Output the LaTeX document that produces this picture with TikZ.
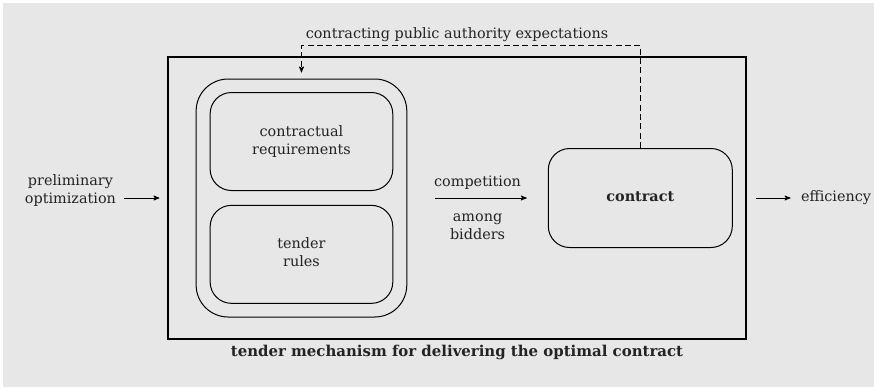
\documentclass[tikz,border=0pt]{standalone}
\usepackage{fontspec}
\setmainfont{DejaVu Serif}
\usepackage{tikz}
\usetikzlibrary{arrows,shapes}
\usetikzlibrary{positioning}
\definecolor{paper}{RGB}{231,231,231}
\definecolor{ink}{RGB}{35,35,35}
\tikzset{
	state1/.style={
		rectangle,
		rounded corners=16pt,
		draw=black,
		line width=0.75pt,
		minimum width=137pt,
		minimum height=73.5pt,
		text centered,
	},
	state2/.style={
		rectangle,
		rounded corners=24pt,
		draw=black,
		line width=0.75pt,
		minimum width=158pt,
		minimum height=178.5pt,
	},
	frame1/.style={
		rectangle,
		draw=black,
		line width=0.85pt,
		minimum width=433.5pt,
		minimum height=211.5pt,
	},
	note1/.style={
		inner xsep=0pt,
		inner ysep=2pt,
		text centered,
	},
}
\begin{document}
\begin{tikzpicture}[->,>=stealth',line width=0.65pt,
	font=\fontsize{10.8}{13.5}\selectfont,text=ink]
	
	\fill[-,paper] (2pt,-2pt) rectangle (655.5pt,-290.25pt);
	\useasboundingbox (0,0) rectangle (655.5pt,-290.25pt);
	
	\node[frame1] (FRAME) at (342.75pt,-148.5pt) {};
	
	\node[state2] (TASKS) at (226.1pt,-148.5pt) {};
	
	\node[state1,
	below=47.25pt of TASKS.north,
	anchor=center] (REQS)
	{
		\begin{tabular}{c}
		contractual\\
		requirements
		\end{tabular}
	};
	
	\node[state1,
	below=47.5pt of REQS.south,
	anchor=center] (RULES)
	{
		\begin{tabular}{c}
		tender\\
		rules
		\end{tabular}
	};
	
	\node[state1,
	minimum width=138pt,
	minimum height=74.25pt,
	right=174.75pt of TASKS,
	anchor=center] (CONTRACT)
	{
		\begin{tabular}{c}
		\bfseries contract
		\end{tabular}
	};
	
	\node[note1,
	left=32.25pt of FRAME,
	yshift=5.25pt,
	anchor=east] (PRELIM)
	{
		\begin{tabular}{c}
		preliminary\\
		optimization
		\end{tabular}
	};
	
	\node[note1,
	right=34.5pt of FRAME,
	anchor=west] (EFF)
	{
		\begin{tabular}{c}
		efficiency
		\end{tabular}
	};
	
	\node[note1,
	above=7pt of FRAME,
	anchor=south] (EXPECT)
	{
		\begin{tabular}{c}
		contracting public authority expectations
		\end{tabular}
	};
	
	\node[note1,
	below=1pt of FRAME,
	anchor=north] (MECH)
	{
		\begin{tabular}{c}
		\fontsize{11.2}{13.5}\selectfont\bfseries tender mechanism for delivering the optimal contract
		\end{tabular}
	};
	
	% turning point of the feedback line
	\coordinate[above=8.25pt of FRAME.north] (TURN);
	
	\path
	(FRAME.west -| PRELIM.east) edge[shorten >=6pt] (FRAME.west)
	(TASKS) edge[shorten <=21pt, shorten >=15.75pt]
		node[note1, above=2.5pt]{\begin{tabular}{c} competition \end{tabular}}
		node[note1, below=5.5pt]{\begin{tabular}{c} among\\ bidders \end{tabular}} (CONTRACT)
	(FRAME.east) edge[shorten <=6.75pt, shorten >=1.5pt] (EFF.west);
	
	\draw[dashed, dash pattern=on 4.5pt off 2.5pt, shorten >=4.5pt]
	(CONTRACT.north) |- (TURN) -| (TASKS.north);
	
\end{tikzpicture}
\end{document}
